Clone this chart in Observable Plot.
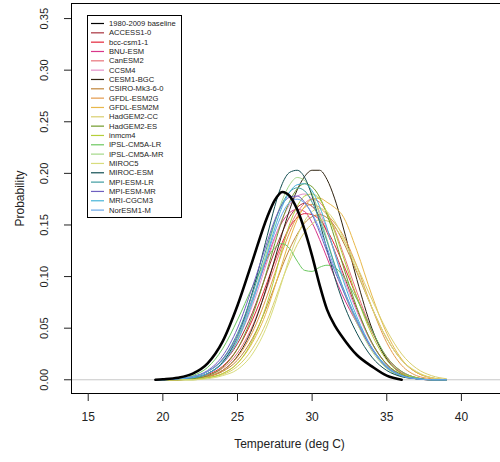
<!DOCTYPE html>
<html>
<head>
<meta charset="utf-8">
<script src="https://cdn.jsdelivr.net/npm/d3@7"></script>
<script src="https://cdn.jsdelivr.net/npm/@observablehq/plot@0.6"></script>
<style>
  html, body { margin: 0; padding: 0; background: #fff; overflow: hidden; }
  svg { font-family: "Liberation Sans", Arial, sans-serif; }
</style>
</head>
<body>
<div id="chart"></div>
<script>
// Temperature grid (deg C)
const temps = [19.5,20,21,22,23,24,25,26,27,27.5,28,28.5,29,29.5,30,30.5,31,31.5,32,33,34,35,36,37,38,39];

const baseline = [0,0.0005,0.002,0.006,0.016,0.037,0.072,0.115,0.158,0.174,0.182,0.178,0.165,0.145,0.12,0.092,0.068,0.053,0.042,0.024,0.013,0.004,0,null,null,null];

const ACCESS1_0   = [0,0,0.001,0.002,0.006,0.016,0.035,0.065,0.105,0.125,0.143,0.158,0.167,0.171,0.168,0.158,0.143,0.125,0.106,0.068,0.036,0.015,0.004,0.001,0,0];
const bcc_csm1_1  = [0,0,0.001,0.002,0.005,0.013,0.03,0.058,0.095,0.115,0.133,0.148,0.157,0.161,0.16,0.155,0.145,0.131,0.115,0.08,0.047,0.022,0.008,0.002,0,0];
const BNU_ESM     = [0,0,0.001,0.003,0.008,0.02,0.043,0.078,0.118,0.138,0.153,0.162,0.165,0.163,0.152,0.136,0.118,0.1,0.083,0.055,0.03,0.012,0.004,0.001,0,0];
const CanESM2     = [0,0,0,0.001,0.004,0.011,0.026,0.052,0.09,0.11,0.13,0.148,0.162,0.171,0.175,0.172,0.162,0.146,0.126,0.085,0.048,0.021,0.007,0.002,0,0];
const CCSM4       = [0,0,0.001,0.002,0.006,0.016,0.038,0.072,0.115,0.137,0.156,0.17,0.178,0.18,0.175,0.163,0.145,0.124,0.103,0.066,0.035,0.015,0.005,0.001,0,0];
const CESM1_BGC   = [0,0,0,0.001,0.003,0.009,0.023,0.05,0.092,0.117,0.142,0.165,0.184,0.197,0.203,0.203,0.194,0.176,0.152,0.097,0.05,0.02,0.006,0.001,0,0];
const CSIRO_Mk3   = [0,0,0,0.001,0.003,0.008,0.019,0.04,0.072,0.091,0.11,0.127,0.141,0.152,0.158,0.16,0.157,0.149,0.136,0.104,0.07,0.04,0.019,0.007,0.002,0];
const GFDL_ESM2G  = [0,0,0,0.001,0.003,0.009,0.022,0.046,0.082,0.103,0.124,0.143,0.158,0.167,0.17,0.167,0.16,0.152,0.142,0.11,0.07,0.036,0.014,0.004,0.001,0];
const GFDL_ESM2M  = [0,0,0,0.001,0.002,0.006,0.016,0.036,0.068,0.09,0.113,0.136,0.155,0.168,0.175,0.176,0.172,0.167,0.16,0.125,0.082,0.045,0.02,0.007,0.002,0];
const HadGEM2_CC  = [0,0,0,0,0.002,0.005,0.013,0.03,0.058,0.077,0.097,0.115,0.131,0.143,0.151,0.155,0.154,0.148,0.138,0.11,0.078,0.048,0.025,0.011,0.004,0.001];
const HadGEM2_ES  = [0,0,0,0.001,0.004,0.012,0.03,0.062,0.107,0.132,0.155,0.173,0.185,0.19,0.187,0.177,0.16,0.138,0.114,0.07,0.036,0.015,0.005,0.001,0,0];
const inmcm4      = [0,0,0,0,0.002,0.006,0.016,0.038,0.075,0.1,0.127,0.151,0.168,0.178,0.18,0.175,0.162,0.144,0.123,0.08,0.044,0.019,0.006,0.002,0,0];
const IPSL_LR     = [0,0,0.001,0.004,0.012,0.03,0.058,0.09,0.118,0.128,0.132,0.127,0.115,0.106,0.105,0.109,0.111,0.109,0.102,0.078,0.048,0.022,0.008,0.002,0,0];
const IPSL_MR     = [0,0,0.001,0.002,0.006,0.017,0.04,0.078,0.126,0.152,0.174,0.189,0.196,0.193,0.18,0.16,0.136,0.112,0.09,0.055,0.028,0.011,0.003,0.001,0,0];
const MIROC5      = [0,0,0,0,0.001,0.004,0.01,0.025,0.053,0.073,0.096,0.119,0.139,0.154,0.163,0.166,0.163,0.154,0.14,0.106,0.07,0.04,0.019,0.008,0.002,0];
const MIROC_ESM   = [0,0,0.001,0.002,0.006,0.017,0.042,0.085,0.14,0.168,0.19,0.201,0.203,0.196,0.178,0.153,0.126,0.1,0.078,0.045,0.022,0.009,0.003,0.001,0,0];
const MPI_ESM_LR  = [0,0,0.001,0.003,0.008,0.02,0.045,0.083,0.13,0.153,0.171,0.182,0.186,0.183,0.172,0.155,0.134,0.112,0.092,0.058,0.031,0.013,0.004,0.001,0,0];
const MPI_ESM_MR  = [0,0,0.001,0.003,0.009,0.023,0.05,0.09,0.134,0.155,0.17,0.177,0.178,0.172,0.16,0.143,0.124,0.106,0.089,0.057,0.03,0.012,0.004,0.001,0,0];
const MRI_CGCM3   = [0,0,0.001,0.002,0.006,0.016,0.038,0.075,0.122,0.147,0.168,0.182,0.189,0.19,0.183,0.168,0.147,0.123,0.1,0.061,0.031,0.012,0.004,0.001,0,0];
const NorESM1_M   = [0,0,0.001,0.003,0.008,0.019,0.042,0.078,0.121,0.143,0.161,0.172,0.175,0.171,0.161,0.146,0.128,0.109,0.091,0.058,0.031,0.013,0.004,0.001,0,0];

const modelNames = ["ACCESS1-0","bcc-csm1-1","BNU-ESM","CanESM2","CCSM4","CESM1-BGC","CSIRO-Mk3-6-0",
  "GFDL-ESM2G","GFDL-ESM2M","HadGEM2-CC","HadGEM2-ES","inmcm4","IPSL-CM5A-LR","IPSL-CM5A-MR",
  "MIROC5","MIROC-ESM","MPI-ESM-LR","MPI-ESM-MR","MRI-CGCM3","NorESM1-M"];
const modelValues = [ACCESS1_0,bcc_csm1_1,BNU_ESM,CanESM2,CCSM4,CESM1_BGC,CSIRO_Mk3,GFDL_ESM2G,GFDL_ESM2M,
  HadGEM2_CC,HadGEM2_ES,inmcm4,IPSL_LR,IPSL_MR,MIROC5,MIROC_ESM,MPI_ESM_LR,MPI_ESM_MR,MRI_CGCM3,NorESM1_M];
const modelColors = ["#a8323e","#e3263a","#d9368a","#e8737a","#e58fc8","#2e2210","#c0843a",
  "#e49a4a","#e8b84a","#d9cf6e","#6f9a2a","#b5cf3a","#6cc860","#a3d889",
  "#d8dc7c","#124f52","#3f9ca0","#6f5fc0","#48b4d8","#6aa6e8"];
const baselineLabel = "1980-2009 baseline";

const xTicks = [15,20,25,30,35,40];
const yTicks = [0,0.05,0.10,0.15,0.20,0.25,0.30,0.35];
const xDomain = [13.88, 42.62];
const yDomain = [-0.0133, 0.3646];

const rows = [];
modelNames.forEach((m, i) => {
  modelValues[i].forEach((p, j) => rows.push({model: m, T: temps[j], p}));
});
const baseRows = baseline.map((p, j) => ({T: temps[j], p}));

const plot = Plot.plot({
  width: 500, height: 462,
  marginLeft: 71, marginRight: 0, marginTop: 3, marginBottom: 69,
  style: {fontFamily: "'Liberation Sans', Arial, sans-serif", background: "#fff", color: "#222"},
  x: {domain: xDomain},
  y: {domain: yDomain},
  color: {domain: modelNames, range: modelColors},
  marks: [
    Plot.ruleY([0], {stroke: "#c8c8c8", strokeWidth: 1}),
    Plot.line(rows, {x: "T", y: "p", z: "model", stroke: "model", strokeWidth: 1, curve: "monotone-x"}),
    Plot.line(baseRows, {x: "T", y: "p", stroke: "#000", strokeWidth: 2.6, curve: "monotone-x", defined: d => d.p != null}),
    Plot.ruleX([xDomain[0]], {stroke: "#000"}),
    Plot.ruleY([yDomain[0]], {stroke: "#000"}),
    Plot.ruleY([yDomain[1]], {stroke: "#000"}),
    Plot.axisX(xTicks, {tickSize: 8, tickPadding: 11, fontSize: 12, label: null, tickFormat: d => String(d)}),
    Plot.axisY(yTicks, {tickSize: 7, label: null, tickFormat: () => ""}),
    Plot.text(yTicks, {y: d => d, text: d => d.toFixed(2), frameAnchor: "left", textAnchor: "middle", lineAnchor: "middle", dx: -27, rotate: -90, fontSize: 11.2, fill: "#222"}),
    Plot.text(["Probability"], {frameAnchor: "left", textAnchor: "middle", lineAnchor: "middle", dx: -51, rotate: -90, fontSize: 12, fill: "#222"}),
    Plot.text(["Temperature (deg C)"], {frameAnchor: "bottom", dx: 3.5, dy: 54, fontSize: 12, fill: "#222"})
  ]
});

document.getElementById("chart").appendChild(plot);

// Legend (R-style box, top-left)
const svg = d3.select(plot);
const entries = [{name: baselineLabel, color: "#000"}].concat(modelNames.map((m, i) => ({name: m, color: modelColors[i]})));
const lg = svg.append("g").attr("class", "legend").attr("text-anchor", "start");
lg.append("rect").attr("x", 87.5).attr("y", 15.5).attr("width", 94).attr("height", 202)
  .attr("fill", "#fff").attr("stroke", "#000").attr("stroke-width", 1);
entries.forEach((e, i) => {
  const y = 23.5 + i * 9.33;
  lg.append("line").attr("x1", 91).attr("x2", 104).attr("y1", y).attr("y2", y)
    .attr("stroke", e.color).attr("stroke-width", 1.2);
  lg.append("text").attr("x", 109).attr("y", y).attr("dy", "0.35em").attr("text-anchor", "start")
    .attr("font-size", 7.6).attr("fill", "#222").text(e.name);
});
</script>
</body>
</html>
